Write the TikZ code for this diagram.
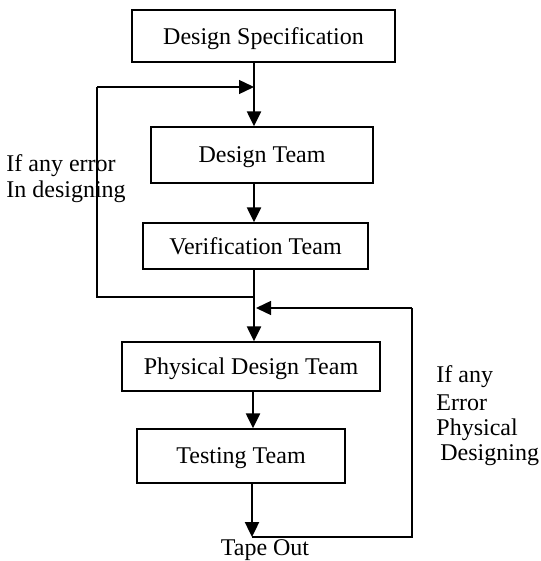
\documentclass[tikz,border=0pt]{standalone}
\usepackage{fontspec}
\setmainfont{Liberation Serif}
\usetikzlibrary{arrows.meta}
\begin{document}
\begin{tikzpicture}[x=0.5pt,y=-0.5pt,
  font=\fontsize{12}{14}\selectfont,
  box/.style={draw,line width=0.7pt,inner sep=0pt,align=center,text depth=0pt},
  arr/.style={line width=1.2pt,-{Triangle[length=7.5pt,width=7pt]}},
  loop/.style={line width=0.7pt},
  loopar/.style={line width=0.7pt,-{Triangle[length=7.5pt,width=7pt]}},
  lbl/.style={inner sep=0pt,anchor=west}]
\useasboundingbox (0,0) rectangle (540,561);
% process boxes
\node[box,minimum width=131.5pt,minimum height=26pt] (spec) at (263.5,36) {Design Specification};
\node[box,minimum width=111pt,minimum height=28pt] (dteam) at (262,155) {Design Team};
\node[box,minimum width=112.5pt,minimum height=23pt] (vteam) at (255.5,246) {Verification Team};
\node[box,minimum width=129pt,minimum height=24.5pt] (pteam) at (251,366.5) {Physical Design Team};
\node[box,minimum width=104pt,minimum height=27pt] (tteam) at (241,456) {Testing Team};
\node[inner sep=0pt,text depth=0pt] (tape) at (265,548) {Tape Out};
% main flow line
\coordinate (m) at (254,0);
\coordinate (j0) at (254,87);
\coordinate (j1) at (254,297);
\coordinate (j2) at (256,308);
\coordinate (tip) at (252,537);
\draw[arr] (spec.south -| m) -- (dteam.north -| m);
\draw[arr] (dteam.south -| m) -- (vteam.north -| m);
\draw[arr] (vteam.south -| m) -- (pteam.north -| m);
\draw[arr] (pteam.south -| 253,0) -- (tteam.north -| 253,0);
\draw[arr] (tteam.south -| tip) -- (tip);
% design error feedback
\coordinate (l1) at (97,297);
\coordinate (l0) at (97,87);
\draw[loop] (j1) -- (l1) -- (l0);
\draw[loopar] (l0) -- (j0);
% physical design error feedback
\coordinate (r0) at (412,537);
\coordinate (r1) at (412,308);
\draw[loop] (tip) -- (r0) -- (r1);
\draw[loopar] (r1) -- (j2);
% feedback labels
\node[lbl] (e1) at (6,166) {If any error};
\node[lbl] (e2) at (6,192) {In designing};
\node[lbl] (p1) at (436,377) {If any};
\node[lbl] (p2) at (436,403) {Error};
\node[lbl] (p3) at (436,430) {Physical};
\node[lbl] (p4) at (440,455) {Designing};
\end{tikzpicture}
\end{document}
